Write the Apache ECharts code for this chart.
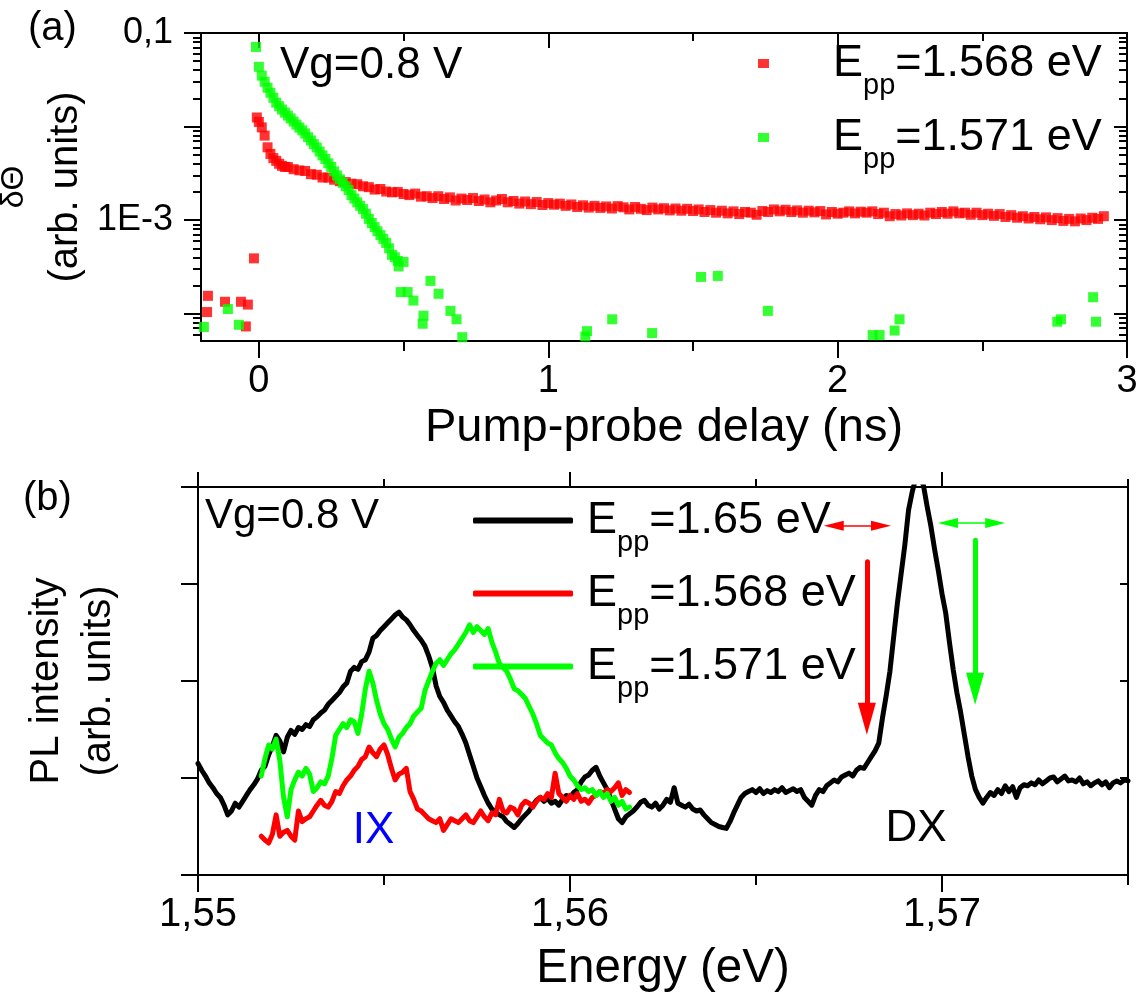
<!DOCTYPE html>
<html><head><meta charset="utf-8">
<script src="https://cdn.jsdelivr.net/npm/echarts@6/dist/echarts.min.js"></script>
<style>html,body{margin:0;padding:0;background:#fff}#c{width:1144px;height:1001px}</style>
</head><body><div id="c"></div>
<script>
// ================= DATA =================
// ---- Panel (a): delta Theta vs pump-probe delay (ns), log scale ----
// E_pp = 1.568 eV (red)
const redNegT = [-0.179, -0.176, -0.117, -0.062, -0.045, -0.038, -0.017];
const redNegV = [1.04e-4, 1.55e-4, 1.34e-4, 1.34e-4, 7.3e-5, 1.25e-4, 3.9e-4];
const redEarlyT = [-0.007, 0.0, 0.01, 0.02, 0.03, 0.04, 0.05, 0.06, 0.07, 0.08, 0.09];
const redEarlyV = [0.0125, 0.0112, 0.0098, 0.0080, 0.0060, 0.0051, 0.0046, 0.0043, 0.0040, 0.0038, 0.0037];
// sampled every 0.02 ns from 0.10 ns, values in units of 1e-3
const redLateT0 = 0.10, redLateStep = 0.02, MILLI = 1e-3;
const redLateV = [
 3.7,3.5,3.4,3.35,3.1,3.05,2.85,2.85,2.7,2.6, 2.55,2.45,2.42,2.3,2.25,2.12,2.15,2.02,1.98,2.0,
 1.9,1.85,1.92,1.78,1.8,1.72,1.8,1.68,1.75,1.62, 1.7,1.64,1.72,1.6,1.66,1.55,1.62,1.68,1.55,1.6,
 1.5,1.58,1.48,1.56,1.45,1.52,1.46,1.5,1.42,1.47, 1.38,1.44,1.36,1.42,1.35,1.4,1.33,1.41,1.37,1.3,
 1.38,1.32,1.28,1.36,1.3,1.34,1.27,1.33,1.26,1.32, 1.25,1.3,1.22,1.28,1.2,1.26,1.18,1.24,1.16,1.22,
 1.2,1.14,1.25,1.22,1.3,1.24,1.29,1.22,1.27,1.2, 1.26,1.21,1.25,1.15,1.22,1.17,1.2,1.24,1.18,1.23,
 1.2,1.24,1.16,1.2,1.1,1.16,1.12,1.18,1.13,1.17, 1.12,1.2,1.16,1.22,1.17,1.24,1.18,1.2,1.14,1.2,
 1.13,1.17,1.11,1.16,1.08,1.13,1.06,1.1,1.04,1.08, 1.02,1.07,1.0,1.05,0.98,1.03,0.97,1.04,1.0,1.06,
 1.03,1.1
];
// E_pp = 1.571 eV (green)
const greenNegT = [-0.190, -0.107, -0.069];
const greenNegV = [7.2e-5, 1.12e-4, 7.6e-5];
const greenDenseT = [-0.01,0,0.01,0.02,0.03,0.04,0.05,0.06,0.07,0.08,0.09,0.10,0.11,0.12,0.13,0.14,0.15,0.16,0.17,0.18,0.19,0.20,
  0.21,0.22,0.23,0.24,0.25,0.26,0.27,0.28,0.29,0.30,0.31,0.32,0.33,0.34,0.35,0.36,0.37,0.38,0.39,0.40,0.41,0.42,0.43,0.44,0.45,0.46,0.47,0.48];
const greenDenseV = [0.071,0.0435,0.035,0.0301,0.026,0.0230,0.0203,0.0180,0.0165,0.0152,0.0141,0.0131,0.0122,0.0113,0.0105,0.00975,0.0091,0.00843,0.0077,0.00710,0.0065,0.00598,
  0.0054,0.00491,0.0045,0.00404,0.0037,0.00332,0.0030,0.00273,0.0025,0.00230,0.0021,0.00185,0.0017,0.00155,0.00142,0.00131,0.00117,0.00103,0.00093,0.00084,0.00076,0.00069,0.00063,0.00057,0.00050,0.000425,0.00040,0.000366];
const greenTailT = [0.483,0.49,0.50,0.514,0.534,0.566,0.569,0.593,0.621,0.662,0.683,0.703,1.128,1.134,1.221,1.359,1.528,1.586,1.759,2.121,2.145,2.197,2.214,2.759,2.772,2.883,2.893];
const greenTailV = [3.2e-4,1.7e-4,3.57e-4,1.7e-4,1.38e-4,7.8e-5,9.5e-5,2.24e-4,1.63e-4,1.07e-4,8.7e-5,5.6e-5,5.7e-5,6.5e-5,8.7e-5,6.2e-5,2.47e-4,2.53e-4,1.07e-4,5.9e-5,5.9e-5,6.6e-5,8.7e-5,8.2e-5,8.7e-5,1.5e-4,8.2e-5];

// axis ticks / labels panel (a)
const delayMajor = [0, 1, 2, 3];
const delayMinor = [0.5, 1.5, 2.5];
const logMajor = [1e-4, 1e-3, 1e-2, 1e-1];
const logLabelVals = [1e-3, 1e-1];
const logLabelText = ['1E-3', '0,1'];
const logMinor = [6e-5,7e-5,8e-5,9e-5, 2e-4,3e-4,4e-4,5e-4,6e-4,7e-4,8e-4,9e-4, 2e-3,3e-3,4e-3,5e-3,6e-3,7e-3,8e-3,9e-3, 2e-2,3e-2,4e-2,5e-2,6e-2,7e-2,8e-2,9e-2];

// ---- Panel (b): PL intensity vs energy (eV), spectra sampled every 0.1 meV from 1.5500 eV ----
const E0 = 1.55, dE = 0.0001;
const black165 = [
 1.15,1.08,1.02,0.95,0.90,0.84,0.80,0.72,0.62,0.66, 0.74,0.70,0.76,0.82,0.88,0.93,0.99,1.08,1.12,1.24,
 1.33,1.44,1.38,1.27,1.42,1.49,1.45,1.52,1.50,1.55, 1.53,1.60,1.63,1.67,1.70,1.76,1.80,1.84,1.88,1.94,
 1.98,2.10,2.14,2.12,2.20,2.22,2.30,2.44,2.47,2.52, 2.56,2.60,2.64,2.68,2.71,2.66,2.63,2.58,2.52,2.47,
 2.42,2.36,2.26,2.14,1.95,1.84,1.78,1.70,1.64,1.58, 1.53,1.45,1.36,1.24,1.12,1.00,0.91,0.82,0.74,0.68,
 0.65,0.62,0.60,0.55,0.52,0.49,0.53,0.58,0.62,0.66, 0.72,0.77,0.80,0.76,0.79,0.74,0.76,0.72,0.78,0.82,
 0.80,0.85,0.88,0.96,1.01,1.03,1.08,1.11,1.02,0.95, 0.88,0.78,0.68,0.58,0.54,0.60,0.63,0.66,0.70,0.75,
 0.77,0.72,0.70,0.74,0.68,0.72,0.78,0.75,0.90,0.74, 0.72,0.70,0.73,0.68,0.66,0.67,0.62,0.58,0.54,0.52,
 0.50,0.49,0.48,0.55,0.64,0.72,0.80,0.84,0.86,0.88, 0.85,0.89,0.84,0.87,0.85,0.88,0.86,0.90,0.85,0.87,
 0.89,0.86,0.88,0.80,0.76,0.72,0.82,0.88,0.86,0.92, 0.95,0.98,0.96,1.01,1.03,1.05,1.02,1.08,1.11,1.10,
 1.16,1.22,1.28,1.36,1.62,1.85,2.10,2.45,2.80,3.10, 3.40,3.76,3.95,4.10,4.10,4.02,3.80,3.60,3.36,3.14,
 2.90,2.70,2.40,2.12,1.88,1.68,1.45,1.22,1.02,0.88, 0.80,0.74,0.80,0.85,0.82,0.88,0.84,0.92,0.86,0.91,
 0.80,0.90,0.93,0.92,0.95,0.93,0.98,0.94,0.97,1.00, 1.01,0.96,0.99,1.02,0.97,0.98,0.96,1.00,0.94,0.96,
 0.92,0.95,0.97,0.93,0.96,0.90,0.95,0.97,0.95,0.98, 0.97
];
const ppStartIdx = 17; // red & green spectra start at sample 17 (1.5517 eV)
const red1568 = [
 0.40,0.36,0.33,0.42,0.62,0.40,0.44,0.46,0.40,0.36, 0.66,0.55,0.58,0.60,0.66,0.72,0.77,0.72,0.70,0.76,
 0.86,0.84,0.92,0.98,1.02,1.08,1.12,1.19,1.22,1.32, 1.26,1.22,1.30,1.34,1.24,1.10,0.98,1.04,1.06,1.10,
 0.86,0.78,0.68,0.66,0.62,0.58,0.56,0.54,0.58,0.46, 0.52,0.58,0.56,0.54,0.58,0.62,0.56,0.54,0.60,0.66,
 0.60,0.56,0.64,0.62,0.78,0.66,0.64,0.70,0.68,0.62, 0.72,0.76,0.74,0.70,0.76,0.80,0.78,0.84,0.80,1.05,
 0.84,0.80,0.76,0.82,0.78,0.84,0.76,0.78,0.74,0.80, 0.82,0.86,0.84,0.88,0.86,0.90,0.95,0.82,0.88,0.85
];
const green1571 = [
 1.02,1.20,1.34,1.30,1.40,1.18,0.80,0.60,0.88,0.98, 1.06,1.02,1.10,1.04,0.86,0.90,0.96,0.94,1.02,1.20,
 1.44,1.50,1.56,1.52,1.60,1.58,1.46,1.66,1.92,2.10, 1.98,1.80,1.66,1.56,1.50,1.40,1.32,1.42,1.46,1.52,
 1.56,1.64,1.68,1.72,1.90,2.00,2.10,2.18,2.22,2.16, 2.22,2.28,2.32,2.38,2.44,2.50,2.58,2.50,2.56,2.52,
 2.48,2.54,2.40,2.30,2.18,2.14,2.10,2.02,1.92,1.90, 1.86,1.82,1.74,1.66,1.56,1.44,1.40,1.36,1.34,1.26,
 1.20,1.16,1.10,1.02,0.98,0.92,0.88,0.90,0.86,0.88, 0.82,0.86,0.80,0.84,0.76,0.80,0.72,0.76,0.68,0.70
];
const energyMajor = [1.55, 1.56, 1.57];
const energyMinor = [1.555, 1.565, 1.575];

// annotations in data coordinates of panel (b)
const arrowRedH = [1.56709, 1.56836, 3.60];   // E1, E2, level
const arrowGreenH = [1.57016, 1.57143, 3.63];
const arrowRedV = [1.56798, 3.23, 1.61];      // E, from, to
const arrowGreenV = [1.57089, 3.45, 1.92];
const labelIX = [1.55472, 0.46];
const labelDX = [1.5693, 0.48];

const legendText = {
  a1568: ['E', 'pp', '=1.568 eV'], a1571: ['E', 'pp', '=1.571 eV'],
  b165: ['E', 'pp', '=1.65 eV'], b1568: ['E', 'pp', '=1.568 eV'], b1571: ['E', 'pp', '=1.571 eV']
};

// ================= BUILD =================
const FONT = '"Liberation Sans", Arial, Helvetica, sans-serif';
const K = '#000';
const pairs = (ts, vs) => ts.map((t, i) => [t, vs[i]]);
const redTop = pairs(redNegT, redNegV)
  .concat(pairs(redEarlyT, redEarlyV))
  .concat(redLateV.map((v, k) => [+(redLateT0 + k * redLateStep).toFixed(2), v * MILLI]));
const greenTop = pairs(greenNegT, greenNegV).concat(pairs(greenDenseT, greenDenseV)).concat(pairs(greenTailT, greenTailV));
const blackB = black165.map((v, i) => [+(E0 + i * dE).toFixed(4), v]);
const redB = red1568.map((v, k) => [+(E0 + (ppStartIdx + k) * dE).toFixed(4), v]);
const greenB = green1571.map((v, k) => [+(E0 + (ppStartIdx + k) * dE).toFixed(4), v]);

const axLine = { show: true, onZero: false, lineStyle: { color: K, width: 2 } };
const noLine = { show: false, onZero: false };
const tick = (vals, len, inside) => ({ show: true, inside: !!inside, length: len, customValues: vals, lineStyle: { color: K, width: 2 } });
const noLabel = { show: false };
const noSplit = { show: false };

function xAx(grid, pos, min, max, line, tk, label, extra) {
  return Object.assign({ gridIndex: grid, type: 'value', position: pos, min, max, axisLine: line, axisTick: tk,
    axisLabel: label || noLabel, splitLine: noSplit, minorTick: { show: false } }, extra || {});
}
function yAx(grid, type, pos, min, max, line, tk, label, extra) {
  return Object.assign({ gridIndex: grid, type, position: pos, min, max, axisLine: line, axisTick: tk,
    axisLabel: label || noLabel, splitLine: noSplit, minorTick: { show: false } }, extra || {});
}
const Y_MIN = 5.1e-5, Y_MAX = 0.1;

const richLeg = (padL) => ({
  e: { fontSize: 45, lineHeight: 50, color: K, fontFamily: FONT, padding: [0, 0, 0, padL] },
  s: { fontSize: 29, lineHeight: 20, color: K, fontFamily: FONT, padding: [44, 0, 0, 0] },
  v: { fontSize: 45, lineHeight: 50, color: K, fontFamily: FONT }
});
const legFmt = n => { const t = legendText[n]; return '{e|' + t[0] + '}{s|' + t[1] + '}{v|' + t[2] + '}'; };

const option = {
  animation: false,
  backgroundColor: '#fff',
  textStyle: { fontFamily: FONT, color: K },
  grid: [
    { left: 201, right: 17, top: 33, height: 308, containLabel: false, outerBoundsMode: 'none' },
    { left: 198, right: 16, top: 487, height: 388, containLabel: false, outerBoundsMode: 'none' }
  ],
  xAxis: [
    xAx(0, 'bottom', -0.2, 3, axLine, tick(delayMajor, 17),
      { show: true, customValues: delayMajor, formatter: v => String(Math.round(v)), fontSize: 38, color: K, margin: 22, fontFamily: FONT },
      { name: 'Pump-probe delay (ns)', nameLocation: 'middle', nameGap: 64, nameTextStyle: { fontSize: 47, color: K, fontFamily: FONT } }),
    xAx(0, 'bottom', -0.2, 3, noLine, tick(delayMinor, 10)),
    xAx(0, 'top', -0.2, 3, axLine, tick(delayMajor, 15, true)),
    xAx(0, 'top', -0.2, 3, noLine, tick(delayMinor, 8, true)),
    xAx(1, 'bottom', 1.55, 1.575, axLine, tick(energyMajor, 17),
      { show: true, customValues: energyMajor, formatter: v => v.toFixed(2).replace('.', ','), fontSize: 40, color: K, margin: 20, fontFamily: FONT },
      { name: 'Energy (eV)', nameLocation: 'middle', nameGap: 70, nameTextStyle: { fontSize: 47.5, color: K, fontFamily: FONT } }),
    xAx(1, 'bottom', 1.55, 1.575, noLine, tick(energyMinor, 10)),
    xAx(1, 'top', 1.55, 1.575, axLine, tick(energyMajor, 15)),
    xAx(1, 'top', 1.55, 1.575, noLine, tick(energyMinor, 8))
  ],
  yAxis: [
    yAx(0, 'log', 'left', Y_MIN, Y_MAX, axLine, tick(logMajor, 17),
      { show: true, customValues: logLabelVals, fontSize: 36, color: K, margin: 28, fontFamily: FONT,
        formatter: v => logLabelText[Math.abs(Math.log10(v) + 1) < 0.01 ? 1 : 0] },
      { logBase: 10, name: '{g|δΘ}\n{u|(arb. units)}', nameLocation: 'middle', nameRotate: 90, nameGap: 100,
        nameTextStyle: { color: K, rich: { g: { fontSize: 32, lineHeight: 52, fontFamily: FONT, color: K }, u: { fontSize: 40, lineHeight: 52, fontFamily: FONT, color: K } } } }),
    yAx(0, 'log', 'left', Y_MIN, Y_MAX, noLine, tick(logMinor, 8), null, { logBase: 10 }),
    yAx(0, 'log', 'right', Y_MIN, Y_MAX, axLine, tick(logMajor, 13, true), null, { logBase: 10 }),
    yAx(0, 'log', 'right', Y_MIN, Y_MAX, noLine, tick(logMinor, 8, true), null, { logBase: 10 }),
    yAx(1, 'value', 'left', 0, 4, axLine, { show: true, length: 17, lineStyle: { color: K, width: 2 } }, null,
      { interval: 1, name: 'PL intensity\n(arb. units)', nameLocation: 'middle', nameRotate: 90, nameGap: 73,
        nameTextStyle: { fontSize: 40, lineHeight: 52, color: K, fontFamily: FONT } }),
    yAx(1, 'value', 'right', 0, 4, axLine, { show: true, inside: true, length: 8, lineStyle: { color: K, width: 2 } }, null, { interval: 1 })
  ],
  legend: [
    { left: 758, top: 27, orient: 'vertical', padding: 0, itemWidth: 11, itemHeight: 9, itemGap: 1, selectedMode: false,
      data: [{ name: 'a1568', icon: 'rect' }, { name: 'a1571', icon: 'rect' }],
      formatter: legFmt, textStyle: { color: K, fontFamily: FONT, rich: richLeg(59) } },
    { left: 473, top: 484, orient: 'vertical', padding: 0, itemWidth: 100, itemHeight: 6, itemGap: 0, selectedMode: false,
      data: [{ name: 'b165', icon: 'roundRect' }, { name: 'b1568', icon: 'roundRect' }, { name: 'b1571', icon: 'roundRect' }],
      formatter: legFmt, textStyle: { color: K, fontFamily: FONT, rich: richLeg(9) } }
  ],
  graphic: [
    { type: 'text', left: 28, top: 9, style: { text: '(a)', font: '40px ' + FONT, fill: K } },
    { type: 'text', left: 23, top: 479, style: { text: '(b)', font: '40px ' + FONT, fill: K } },
    { type: 'text', left: 280, top: 44, style: { text: 'Vg=0.8 V', font: '44px ' + FONT, fill: K } },
    { type: 'text', left: 205, top: 495, style: { text: 'Vg=0.8 V', font: '42px ' + FONT, fill: K } }
  ],
  series: [
    { name: 'a1568', type: 'scatter', xAxisIndex: 0, yAxisIndex: 0, symbol: 'rect', symbolSize: 10,
      itemStyle: { color: '#ff0000' }, data: redTop, z: 2 },
    { name: 'a1571', type: 'scatter', xAxisIndex: 0, yAxisIndex: 0, symbol: 'rect', symbolSize: 10,
      itemStyle: { color: '#00ff00' }, data: greenTop, z: 3 },
    { name: 'b165', type: 'line', xAxisIndex: 4, yAxisIndex: 4, symbol: 'none', showSymbol: false, clip: true,
      lineStyle: { color: K, width: 5, cap: 'round', join: 'round' }, itemStyle: { color: K }, data: blackB, z: 2,
      markLine: {
        silent: true, animation: false, label: { show: false }, symbol: ['triangle', 'triangle'], symbolSize: [10, 20],
        data: [
          [{ coord: [arrowRedH[0], arrowRedH[2]], lineStyle: { color: '#ff0000', width: 1.5, type: 'solid' } }, { coord: [arrowRedH[1], arrowRedH[2]] }],
          [{ coord: [arrowGreenH[0], arrowGreenH[2]], lineStyle: { color: '#00ff00', width: 1.5, type: 'solid' } }, { coord: [arrowGreenH[1], arrowGreenH[2]] }],
          [{ coord: [arrowRedV[0], arrowRedV[1]], symbol: 'none', lineStyle: { color: '#ff0000', width: 5, type: 'solid', cap: 'round' } },
           { coord: [arrowRedV[0], arrowRedV[2]], symbol: 'triangle', symbolSize: [18, 32] }],
          [{ coord: [arrowGreenV[0], arrowGreenV[1]], symbol: 'none', lineStyle: { color: '#00ff00', width: 5, type: 'solid', cap: 'round' } },
           { coord: [arrowGreenV[0], arrowGreenV[2]], symbol: 'triangle', symbolSize: [18, 32] }]
        ]
      },
      markPoint: {
        silent: true, animation: false, symbol: 'circle', symbolSize: 0,
        data: [
          { coord: labelIX, label: { show: true, position: 'inside', formatter: 'IX', color: '#0000ff', fontSize: 44, fontFamily: FONT } },
          { coord: labelDX, label: { show: true, position: 'inside', formatter: 'DX', color: K, fontSize: 44, fontFamily: FONT } }
        ]
      }
    },
    { name: 'b1568', type: 'line', xAxisIndex: 4, yAxisIndex: 4, symbol: 'none', showSymbol: false, clip: true,
      lineStyle: { color: '#ff0000', width: 5, cap: 'round', join: 'round' }, itemStyle: { color: '#ff0000' }, data: redB, z: 3 },
    { name: 'b1571', type: 'line', xAxisIndex: 4, yAxisIndex: 4, symbol: 'none', showSymbol: false, clip: true,
      lineStyle: { color: '#00ff00', width: 5, cap: 'round', join: 'round' }, itemStyle: { color: '#00ff00' }, data: greenB, z: 4 }
  ]
};
const chart = echarts.init(document.getElementById('c'), null, { renderer: 'canvas' });
chart.setOption(option);
</script></body></html>
